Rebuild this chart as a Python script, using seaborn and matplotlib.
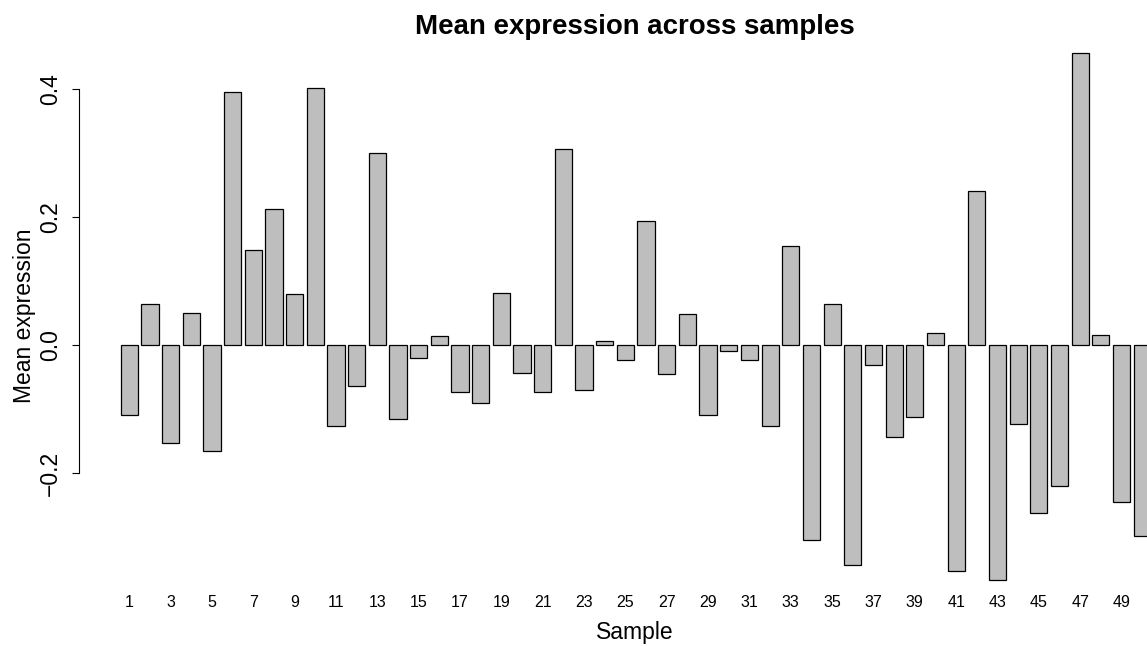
import pandas as pd
import matplotlib
matplotlib.use("Agg")
import matplotlib.pyplot as plt
import seaborn as sns

# values
samples = [str(i) for i in range(1, 51)]
mean_expr = [
    -0.110, 0.064, -0.153, 0.050, -0.165, 0.395, 0.148, 0.212, 0.079, 0.402,
    -0.127, -0.064, 0.300, -0.116, -0.021, 0.014, -0.074, -0.090, 0.082, -0.043,
    -0.073, 0.306, -0.070, 0.007, -0.023, 0.194, -0.045, 0.048, -0.110, -0.009,
    -0.023, -0.126, 0.155, -0.304, 0.064, -0.344, -0.032, -0.143, -0.113, 0.018,
    -0.353, 0.240, -0.367, -0.123, -0.262, -0.221, 0.457, 0.016, -0.246, -0.298,
]
yticks = [-0.2, 0.0, 0.2, 0.4]
ytick_labels = ["\u22120.2", "0.0", "0.2", "0.4"]

df = pd.DataFrame({"Sample": samples, "Mean expression": mean_expr})

sns.set_style("white")
plt.rcParams["font.family"] = ["Liberation Sans", "DejaVu Sans"]
plt.rcParams.update({
    "text.color": "black",
    "axes.labelcolor": "black",
    "axes.edgecolor": "black",
    "xtick.color": "black",
    "ytick.color": "black",
})

W, H = 1147, 646
fig = plt.figure(figsize=(W / 100, H / 100), dpi=100)

# plot region in pixels (right edge runs past the figure, like the reference)
left_px, right_px = 78.8, 1191.0
top_px, bottom_px = 30.8, 601.0
ax = fig.add_axes([left_px / W, 1 - bottom_px / H,
                   (right_px - left_px) / W, (bottom_px - top_px) / H])

sns.barplot(data=df, x="Sample", y="Mean expression", color="#BEBEBE",
            edgecolor="black", linewidth=0.9, width=0.833, saturation=1,
            errorbar=None, ax=ax)

ax.set_xlim(-2.443, 51.36)
ax.set_ylim(-0.40, 0.491)

for side in ["top", "right", "bottom"]:
    ax.spines[side].set_visible(False)
ax.spines["left"].set_bounds(-0.2, 0.4)
ax.spines["left"].set_linewidth(0.8)

ax.set_yticks(yticks)
ax.set_yticklabels(ytick_labels, rotation=90, va="center", fontsize=16.5)
ax.tick_params(axis="y", length=5, width=0.8, pad=7, left=True)

pos = list(range(0, 50, 2))
ax.set_xticks(pos)
ax.set_xticklabels([samples[i] for i in pos], fontsize=11.5)
ax.tick_params(axis="x", length=0, pad=-4)

ax.set_xlabel("Sample", fontsize=16.5)
ax.xaxis.set_label_coords(0.5, -(632 - bottom_px) / (bottom_px - top_px))
ax.xaxis.label.set_va("center")
ax.set_ylabel("Mean expression", fontsize=16.5)
ax.yaxis.set_label_coords((25 - left_px) / (right_px - left_px), 0.5)
ax.yaxis.label.set_va("center")

ax.set_title("Mean expression across samples", fontsize=19.9,
             fontweight="bold", pad=0,
             y=1 + (top_px - 34) / (bottom_px - top_px))

fig.savefig("out.png", dpi=100)
